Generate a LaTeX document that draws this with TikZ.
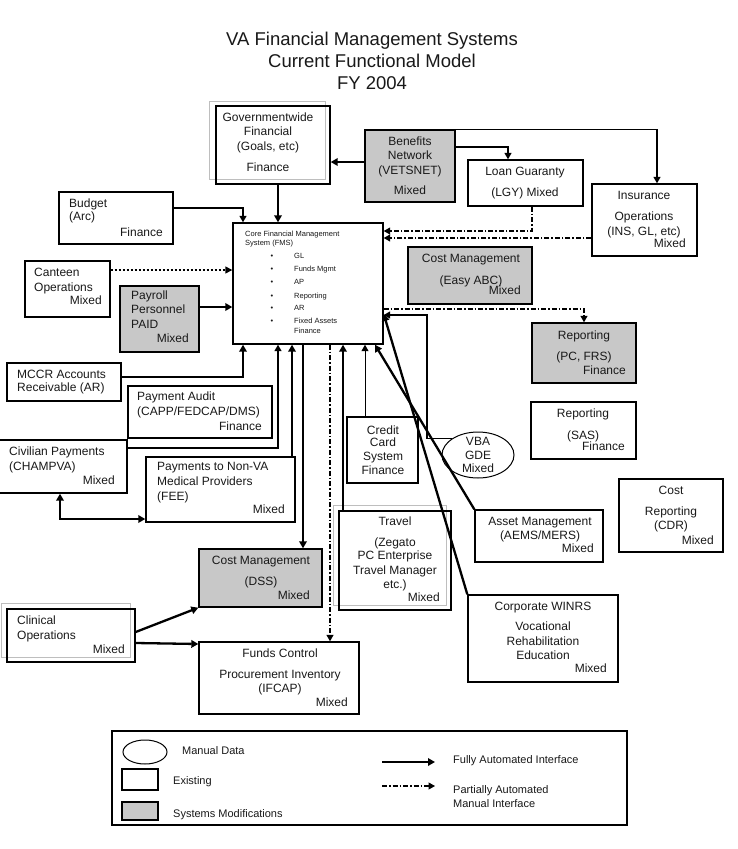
\documentclass[tikz,border=0pt]{standalone}
\usepackage{fontspec}
\setmainfont{Liberation Sans}
\usetikzlibrary{arrows.meta,fit,shapes.geometric}
\definecolor{boxgray}{RGB}{200,200,200}
\definecolor{textc}{RGB}{25,25,25}
\definecolor{shadowc}{RGB}{190,190,190}
\newcounter{tnum}
\newcommand\tC[3]{\stepcounter{tnum}\edef\tnm{t\arabic{tnum}}\node[txt,anchor=mid] (\tnm) at (#1,#2) {#3};}
\newcommand\tL[3]{\stepcounter{tnum}\edef\tnm{t\arabic{tnum}}\node[txt,anchor=mid west] (\tnm) at (#1,#2) {#3};}
\newcommand\tR[3]{\stepcounter{tnum}\edef\tnm{t\arabic{tnum}}\node[txt,anchor=mid east] (\tnm) at (#1,#2) {#3};}
\newcommand\sL[3]{\stepcounter{tnum}\edef\tnm{t\arabic{tnum}}\node[stxt,anchor=mid west] (\tnm) at (#1,#2) {#3};}
\begin{document}
\begin{tikzpicture}[x=1pt,y=-1pt,
  box/.style={draw=black,line width=1.4pt,inner sep=0pt},
  gbox/.style={box,fill=boxgray},
  shadowl/.style={draw=shadowc,line width=1pt},
  txt/.style={font=\fontsize{12}{14}\selectfont,text=textc,inner sep=0pt},
  stxt/.style={font=\fontsize{7.5}{9}\selectfont,text=textc,inner sep=0pt},
  ltxt/.style={font=\fontsize{11}{13}\selectfont,text=textc,inner sep=0pt},
  ttl/.style={font=\fontsize{18.5}{22}\selectfont,text=textc,inner sep=0pt},
  fa/.style={line width=2.3pt,-{Triangle[length=7pt,width=7.5pt]}},
  ma/.style={line width=1.5pt,-{Triangle[length=6.5pt,width=7pt]}},
  ta/.style={line width=1pt,-{Triangle[length=6.5pt,width=7pt]}},
  pa/.style={line width=1.1pt,dash pattern=on 5pt off 2pt on 1.5pt off 2pt,-{Triangle[length=6.5pt,width=7pt]}},
  da/.style={line width=1.4pt,dash pattern=on 2.5pt off 1.5pt,-{Triangle[length=7pt,width=7pt]}},
]
\useasboundingbox[fill=white] (0,0) rectangle (737,849);

% Title
\node[ttl,anchor=mid] (title1) at (372,43) {VA Financial Management Systems};
\node[ttl,anchor=mid] (title2) at (372,65) {Current Functional Model};
\node[ttl,anchor=mid] (title3) at (372,87) {FY 2004};

% shadows
\draw[shadowl] (209,101) rectangle (325,179);
\draw[shadowl] (333,505) rectangle (446,605);
\draw[shadowl] (1,603) rectangle (130,657);

% Boxes
\node[box,fit={(216,106) (330,184)}] (gov) {};
\node[gbox,fit={(365,130) (455,202)}] (benefits) {};
\node[box,fit={(468,160) (583,206)}] (loan) {};
\node[box,fit={(592,184) (697,256)}] (insurance) {};
\node[gbox,fit={(408,247) (532,304)}] (easyabc) {};
\node[gbox,fit={(532,323) (636,383)}] (reppc) {};
\node[box,fit={(531,402) (636,459)}] (repsas) {};
\node[box,fit={(619,479) (723,552)}] (cdr) {};
\node[box,fit={(475,510) (603,562)}] (asset) {};
\node[box,fit={(468,595) (618,682)}] (winrs) {};
\node[box,fit={(339,511) (451,610)}] (travel) {};
\node[box,fit={(347,417) (418,483)}] (credit) {};
\node[draw=black,line width=1pt,ellipse,minimum width=72pt,minimum height=46pt,inner sep=0pt] (vba) at (478,455) {};
\node[box,fit={(233,223) (383,344)}] (cfms) {};
\node[box,fit={(59,192) (173,244)}] (budget) {};
\node[box,fit={(25,261) (110,317)}] (canteen) {};
\node[gbox,fit={(120,286) (199,352)}] (payroll) {};
\node[box,fit={(7,363) (121,401)}] (mccr) {};
\node[box,fit={(128,386) (272,438)}] (payaudit) {};
\node[box,fit={(-4,440) (127,493)}] (civilian) {};
\node[box,fit={(146,457) (295,522)}] (fee) {};
\node[gbox,fit={(199,549) (322,607)}] (dss) {};
\node[box,fit={(7,609) (135,662)}] (clinical) {};
\node[box,fit={(199,642) (359,714)}] (funds) {};

% Texts
\tC{268}{119}{Governmentwide}
\tC{268}{133}{Financial}
\tC{268}{148}{(Goals, etc)}
\tC{268}{169}{Finance}

\tC{410}{143}{Benefits}
\tC{410}{157}{Network}
\tC{410}{172}{(VETSNET)}
\tC{410}{192}{Mixed}

\tC{525}{173}{Loan Guaranty}
\tC{525}{194}{(LGY) Mixed}

\tC{644}{197}{Insurance}
\tC{644}{218}{Operations}
\tC{644}{233}{(INS, GL, etc)}
\tR{686}{245}{Mixed}

\tC{471}{260}{Cost Management}
\tC{471}{282}{(Easy ABC)}
\tR{521}{292}{Mixed}

\tC{584}{337}{Reporting}
\tC{584}{358}{(PC, FRS)}
\tR{626}{372}{Finance}

\tC{583}{415}{Reporting}
\tC{583}{437}{(SAS)}
\tR{625}{448}{Finance}

\tC{671}{492}{Cost}
\tC{671}{513}{Reporting}
\tC{671}{527}{(CDR)}
\tR{714}{542}{Mixed}

\tC{540}{523}{Asset Management}
\tC{540}{537}{(AEMS/MERS)}
\tR{594}{550}{Mixed}

\tC{543}{608}{Corporate WINRS}
\tC{543}{628}{Vocational}
\tC{543}{643}{Rehabilitation}
\tC{543}{657}{Education}
\tR{607}{670}{Mixed}

\tC{395}{523}{Travel}
\tC{395}{544}{(Zegato}
\tC{395}{557}{PC Enterprise}
\tC{395}{572}{Travel Manager}
\tC{395}{586}{etc.)}
\tR{440}{599}{Mixed}

\tC{383}{432}{Credit}
\tC{383}{444}{Card}
\tC{383}{458}{System}
\tC{383}{472}{Finance}

\tC{478}{443}{VBA}
\tC{478}{457}{GDE}
\tC{478}{470}{Mixed}

% CFMS contents
\sL{245}{234}{Core Financial Management}
\sL{245}{243}{System (FMS)}
\foreach \yy/\lab [count=\i] in {256/GL,269/Funds Mgmt,282/AP,296/Reporting,308/AR,321/Fixed Assets}{
  \node[stxt,anchor=mid] (bul\i) at (272,\yy) {\textbullet};
  \node[stxt,anchor=mid west] (item\i) at (294,\yy) {\lab};
}
\sL{294}{331}{Finance}

\tL{69}{205}{Budget}
\tL{69}{218}{(Arc)}
\tR{163}{234}{Finance}

\tL{34}{274}{Canteen}
\tL{34}{289}{Operations}
\tR{102}{302}{Mixed}

\tL{131}{297}{Payroll}
\tL{131}{311}{Personnel}
\tL{131}{326}{PAID}
\tR{189}{340}{Mixed}

\tL{17}{376}{MCCR Accounts}
\tL{17}{389}{Receivable (AR)}

\tL{137}{398}{Payment Audit}
\tL{137}{413}{(CAPP/FEDCAP/DMS)}
\tR{262}{428}{Finance}

\tL{9}{453}{Civilian Payments}
\tL{9}{468}{(CHAMPVA)}
\tR{115}{482}{Mixed}

\tL{157}{468}{Payments to Non-VA}
\tL{157}{483}{Medical Providers}
\tL{157}{498}{(FEE)}
\tR{285}{511}{Mixed}

\tC{261}{562}{Cost Management}
\tC{261}{583}{(DSS)}
\tR{310}{597}{Mixed}

\tL{17}{622}{Clinical}
\tL{17}{637}{Operations}
\tR{125}{651}{Mixed}

\tC{280}{655}{Funds Control}
\tC{280}{676}{Procurement Inventory}
\tC{280}{690}{(IFCAP)}
\tR{348}{704}{Mixed}

% Connectors
\draw[fa] (benefits.west |- 0,162) -- (gov.east |- 0,162);
\draw[ma] (benefits.east |- 0,147) -| (508,0 |- loan.north);
\draw[ma] (benefits.north east) -| (657,0 |- insurance.north);
\draw[fa] (gov.south -| 278,0) -- (cfms.north -| 278,0);
\draw[ma] (budget.east |- 0,208) -| (cfms.north -| 243,0);
\draw[da] (canteen.east |- 0,270) -- (cfms.west |- 0,270);
\draw[fa] (payroll.east |- 0,307) -- (cfms.west |- 0,307);
\draw[fa] (mccr.east |- 0,377) -| (cfms.south -| 243,0);
\draw[ma] (civilian.east |- 0,448) -| (cfms.south -| 278,0);
\draw[fa] (fee.north -| 292,0) -- (cfms.south -| 292,0);
\draw[fa] (cfms.south -| 303,0) -- (dss.north -| 303,0);
\draw[pa] (cfms.south -| 330,0) -- (funds.north -| 330,0);
\draw[fa] (travel.north -| 343,0) -- (cfms.south -| 343,0);
\draw[ta] (credit.north -| 365,0) -- (cfms.south -| 365,0);
\draw[fa] (asset.north west) -- (cfms.south -| 375,0);
\draw[fa] (winrs.north west) -- (cfms.east |- 0,314);
\coordinate (vbaknee) at (427,315);
\draw[ma] (vba.north west) -| (vbaknee) -- (cfms.east |- vbaknee);
\draw[pa] (cfms.east |- 0,309) -| (reppc.north);
\draw[pa] (loan.south -| 532,0) |- (cfms.east |- 0,231);
\draw[pa] (insurance.west |- 0,238) -- (cfms.east |- 0,238);
\draw[fa,{Triangle[length=7pt,width=7.5pt]}-{Triangle[length=7pt,width=7.5pt]}] (civilian.south -| 60,0) |- (fee.west |- 0,519);
\draw[fa] (clinical.east |- 0,632) -- (dss.south west);
\draw[fa] (clinical.east |- 0,643) -- (funds.west |- 0,644);

% Legend
\node[draw=black,line width=1.2pt,inner sep=0pt,fit={(112,731) (627,825)}] (legend) {};
\node[draw=black,line width=1pt,ellipse,minimum width=44pt,minimum height=24pt,inner sep=0pt] (lell) at (145,752) {};
\node[box,fit={(122,769) (158,790)}] (lex) {};
\node[gbox,fit={(122,802) (158,820)}] (lmod) {};
\node[ltxt,anchor=mid west] (lt1) at (182,752) {Manual Data};
\node[ltxt,anchor=mid west] (lt2) at (173,782) {Existing};
\node[ltxt,anchor=mid west] (lt3) at (173,815) {Systems Modifications};
\coordinate (la1) at (382,762);
\coordinate (la2) at (435,762);
\coordinate (lb1) at (382,786);
\coordinate (lb2) at (435,786);
\draw[fa] (la1) -- (la2);
\draw[pa] (lb1) -- (lb2);
\node[ltxt,anchor=mid west] (lt4) at (453,761) {Fully Automated Interface};
\node[ltxt,anchor=mid west] (lt5) at (453,791) {Partially Automated};
\node[ltxt,anchor=mid west] (lt6) at (453,805) {Manual Interface};
\end{tikzpicture}
\end{document}
